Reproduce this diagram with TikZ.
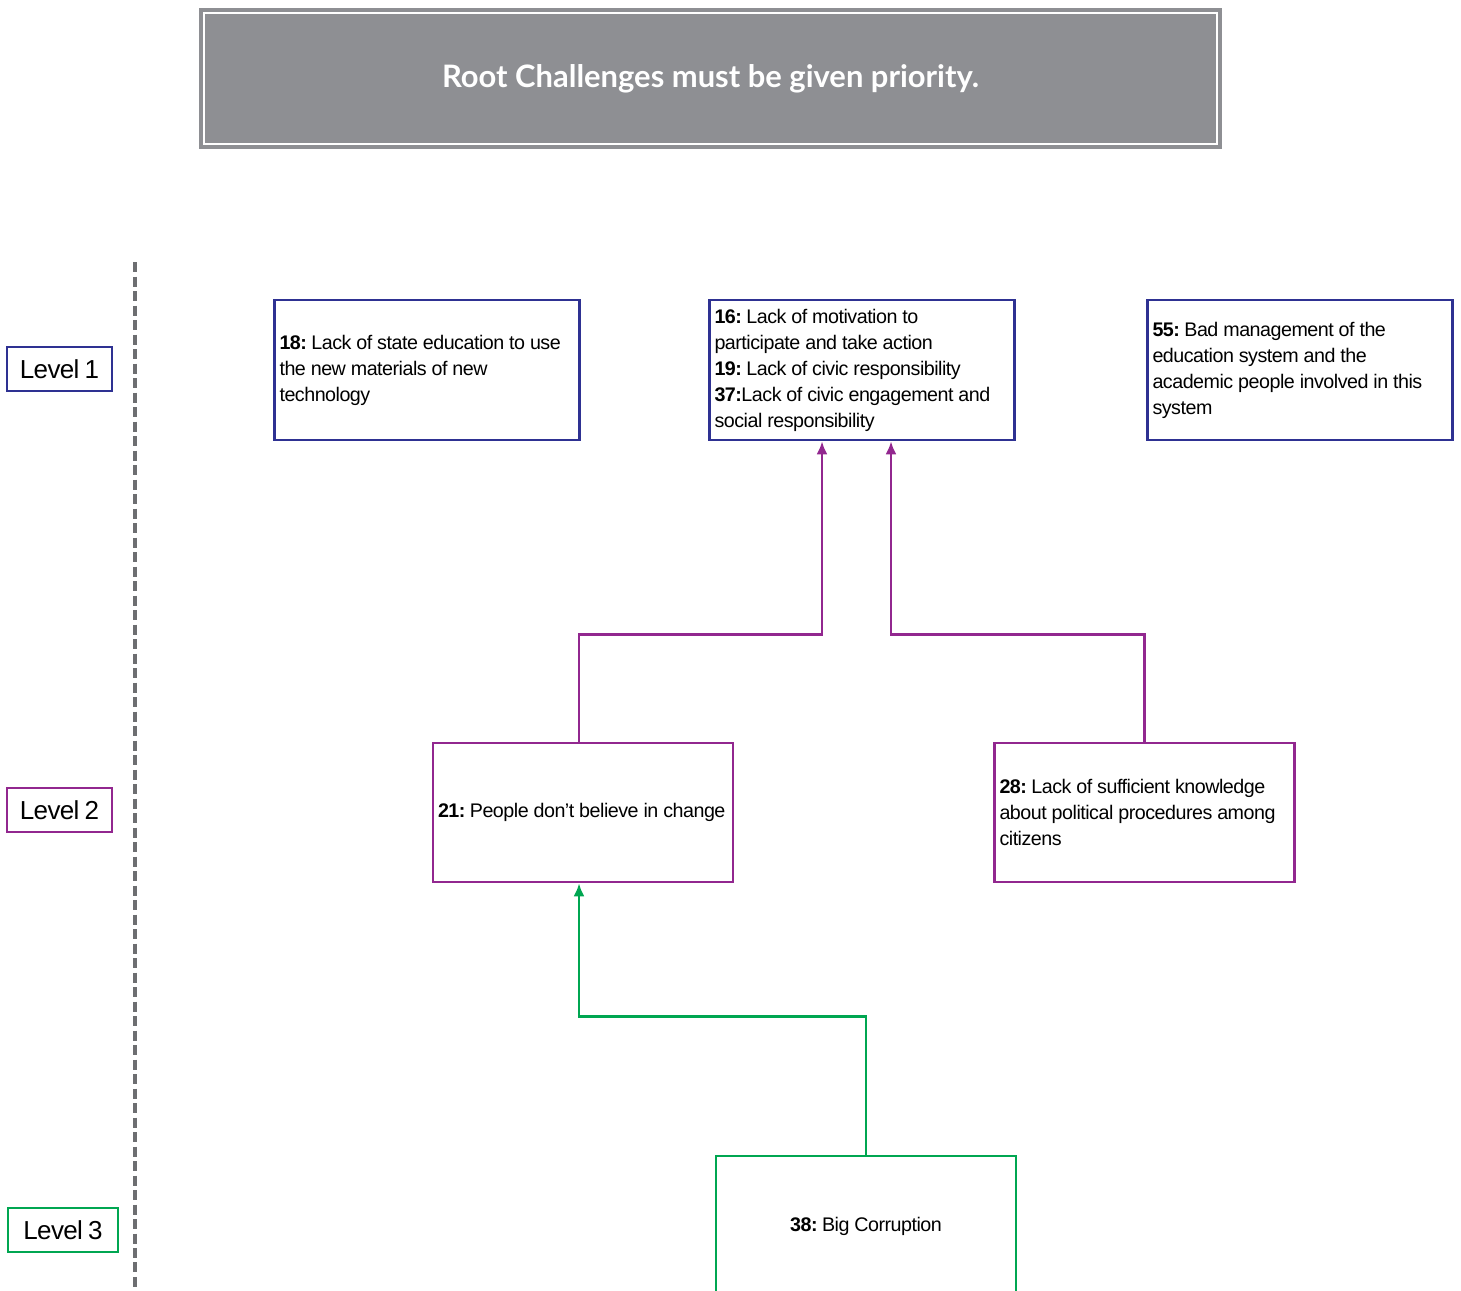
\documentclass[tikz,border=0pt]{standalone}
\usepackage{fontspec}
\setmainfont{Liberation Sans}[LetterSpace=-2.5]
\newfontfamily\titlefont{Lato}
\usetikzlibrary{positioning,calc,arrows.meta}
\definecolor{lvlblue}{HTML}{2E3192}
\definecolor{lvlpurple}{HTML}{92278F}
\definecolor{lvlgreen}{HTML}{00A651}
\definecolor{titlegray}{HTML}{8E8F93}
\definecolor{dashgray}{HTML}{6D6E71}
\begin{document}
\frenchspacing
\begin{tikzpicture}[node distance=2cm, auto, >={Latex[length=2.6mm,width=2.2mm]},
    challenge/.style={draw, rectangle, line width=1.6pt, inner sep=0.1cm, text width=5.9cm,
        minimum height=2.8cm, align=left, font=\fontsize{11.2}{14.8}\selectfont,
        execute at begin node={\spaceskip=0.25em\relax}},
    levelbox/.style={draw, rectangle, line width=1.4pt, minimum height=0.88cm, inner sep=0.1cm,
        font=\fontsize{14.8}{16}\selectfont, execute at begin node={\spaceskip=0.2em\relax}},
    link/.style={->, line width=1.3pt}]
        \useasboundingbox (0,0) rectangle (29.22,-25.8);
        % Title
        \node[rectangle, fill=titlegray, draw=titlegray, line width=2pt, minimum width=20.38cm,
            minimum height=2.74cm, text=white, font=\titlefont\bfseries\fontsize{17.6}{20}\selectfont]
            (title) at (14.21,-1.57) {\raisebox{-2.5pt}{Root Challenges must be given priority.}};
        \draw[white, line width=1.2pt] ($(title.north west)+(0.1,-0.1)$) rectangle ($(title.south east)+(-0.1,0.1)$);
        % Level 1 nodes
        \node[challenge, draw=lvlblue] (c18) at (8.54,-7.4) {\textbf{18:} Lack of state education to use\\the new materials of new\\technology};
        \node[challenge, draw=lvlblue, right of=c18, node distance=8.7cm] (c16) {\textbf{16:} Lack of motivation to\\participate and take action\\\textbf{19:} Lack of civic responsibility\\\textbf{37:}Lack of civic engagement and\\social responsibility};
        \node[challenge, draw=lvlblue, right of=c16, node distance=8.76cm] (c55) {\textbf{55:} Bad management of the\\education system and the\\academic people involved in this\\system};
        % Level 2 nodes
        \node[challenge, draw=lvlpurple, text width=5.8cm, minimum height=2.78cm] (c21) at (11.66,-16.25) {\textbf{21:} People don{\char"27}t believe in change};
        \node[challenge, draw=lvlpurple, text width=5.8cm, minimum height=2.78cm, right of=c21, node distance=11.23cm] (c28) {\textbf{28:} Lack of sufficient knowledge\\about political procedures among\\citizens};
        % Level 3 node
        \node[challenge, draw=lvlgreen, text width=5.8cm, align=center, below of=c21, node distance=8.27cm, xshift=5.66cm] (c38) {\textbf{38:} Big Corruption};
        % Level labels
        \node[levelbox, draw=lvlblue, minimum width=2.1cm] (lvl1) at (1.19,-7.38) {Level 1};
        \node[levelbox, draw=lvlpurple, minimum width=2.1cm, below of=lvl1, node distance=8.82cm] (lvl2) {Level 2};
        \node[levelbox, draw=lvlgreen, minimum width=2.2cm] (lvl3) at (1.26,-24.6) {Level 3};
        % Separator
        \coordinate (septop) at (2.7,-5.24);
        \coordinate (sepbot) at (2.7,-25.8);
        \draw[dashgray, line width=2pt, dash pattern=on 0.2cm off 0.09cm] (septop) -- (sepbot);
        % Arrows
        \coordinate (in1) at ($(c16.south)+(-0.8,0)$);
        \coordinate (in2) at ($(c16.south)+(0.58,0)$);
        \draw[link, lvlpurple] (c21.north) ++(-0.08,0) -- ++(0,2.14) -| (in1);
        \draw[link, lvlpurple] (c28.north) -- ++(0,2.14) -| (in2);
        \draw[link, lvlgreen] (c38.north) -- ++(0,2.76) -| ($(c21.south)+(-0.08,0)$);
    \end{tikzpicture}
\end{document}
